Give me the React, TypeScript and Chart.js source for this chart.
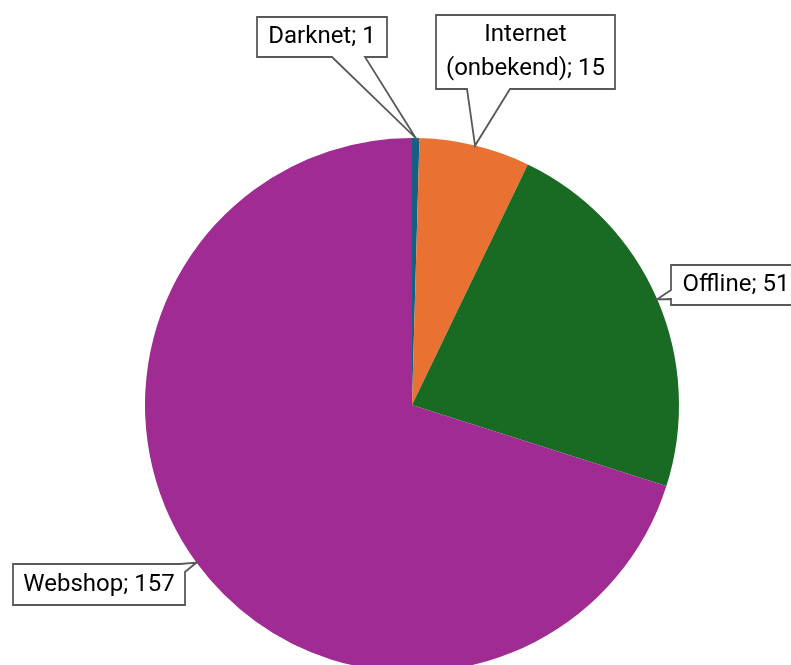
import React, { useEffect, useRef } from "react";
import { Chart, registerables } from "chart.js";

Chart.register(...registerables);

const categories = ["Darknet", "Internet (onbekend)", "Offline", "Webshop"];
const counts = [1, 15, 51, 157];
const labelLines = [["Darknet; 1"], ["Internet", "(onbekend); 15"], ["Offline; 51"], ["Webshop; 157"]];
const sliceColors = ["#156082", "#E97132", "#196B24", "#A02B93"];

// callout boxes: x, y, w, h; pointer inserted after corner index (0 TL,1 TR,2 BR,3 BL), base points, dropNext
const calloutBoxes = [
  { x: 257, y: 17, w: 130, h: 40, after: 2, p1: [365, 57], p2: [332, 57], drop: false },
  { x: 436, y: 15, w: 179, h: 74, after: 2, p1: [510, 89], p2: [467, 89], drop: false },
  { x: 671, y: 265, w: 130, h: 40, after: 3, p1: [671, 299], p2: [671, 290], drop: false },
  { x: 13, y: 564, w: 172, h: 41, after: 0, p1: [180, 564], p2: [185, 572], drop: true },
];

const calloutPlugin = {
  id: "callouts",
  afterDatasetsDraw(chart: any) {
    const ctx = chart.ctx;
    const meta = chart.getDatasetMeta(0);
    ctx.save();
    meta.data.forEach((arc: any, i: number) => {
      const p = arc.getProps(["x", "y", "startAngle", "endAngle", "outerRadius"], true);
      const mid = (p.startAngle + p.endAngle) / 2;
      const ax = p.x + Math.cos(mid) * p.outerRadius;
      const ay = p.y + Math.sin(mid) * p.outerRadius;
      const b = calloutBoxes[i];
      const corners = [
        [b.x, b.y],
        [b.x + b.w, b.y],
        [b.x + b.w, b.y + b.h],
        [b.x, b.y + b.h],
      ];
      const pts: number[][] = [];
      for (let k = 0; k < 4; k++) {
        if (b.drop && k === b.after + 1) continue;
        pts.push(corners[k]);
        if (k === b.after) {
          pts.push(b.p1, [ax, ay], b.p2);
        }
      }
      ctx.beginPath();
      pts.forEach((pt, j) => (j === 0 ? ctx.moveTo(pt[0], pt[1]) : ctx.lineTo(pt[0], pt[1])));
      ctx.closePath();
      ctx.fillStyle = "#ffffff";
      ctx.fill();
      ctx.lineWidth = 1.8;
      ctx.strokeStyle = "#595959";
      ctx.lineJoin = "miter";
      ctx.stroke();

      const lines = labelLines[i];
      ctx.fillStyle = "#000000";
      ctx.font = "24px Roboto";
      ctx.textAlign = "center";
      ctx.textBaseline = "middle";
      const lh = 34;
      const cx = b.x + b.w / 2;
      const cy = b.y + b.h / 2;
      lines.forEach((t, j) => {
        ctx.fillText(t, cx, cy + (j - (lines.length - 1) / 2) * lh);
      });
    });
    ctx.restore();
  },
};

export default function App() {
  const ref = useRef<HTMLCanvasElement | null>(null);
  useEffect(() => {
    if (!ref.current) return;
    const chart = new Chart(ref.current, {
      type: "pie",
      data: {
        labels: categories,
        datasets: [
          {
            data: counts,
            backgroundColor: sliceColors,
            borderColor: "#ffffff",
            borderWidth: 0,
          },
        ],
      },
      options: {
        responsive: false,
        maintainAspectRatio: false,
        animation: false,
        layout: { padding: { left: 145, right: 112, top: 138, bottom: 28 } },
        plugins: {
          legend: { display: false },
          tooltip: { enabled: false },
        },
      },
      plugins: [calloutPlugin],
    });
    return () => chart.destroy();
  }, []);
  return (
    <div style={{ position: "fixed", left: 0, top: 0, width: 791, height: 665, overflow: "hidden", background: "#fff" }}>
      <canvas ref={ref} width={791} height={700} style={{ width: 791, height: 700, display: "block" }} />
    </div>
  );
}
